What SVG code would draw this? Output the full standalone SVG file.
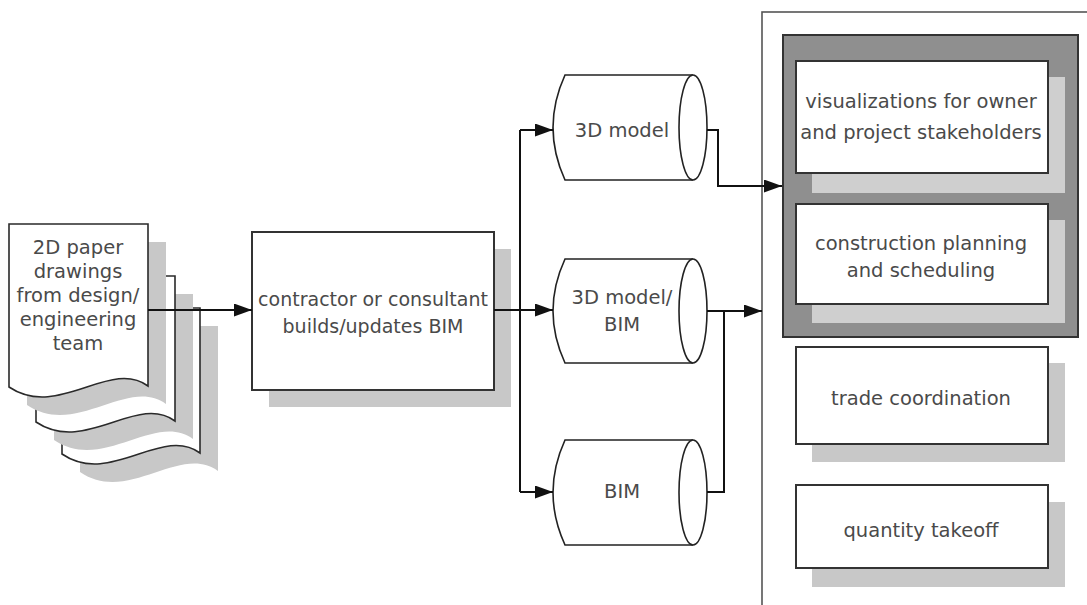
<svg xmlns="http://www.w3.org/2000/svg" width="1087" height="605" viewBox="0 0 1087 605">
<style>
.t{font-family:"DejaVu Sans","Liberation Sans",sans-serif;font-size:19.5px;fill:#4a4a4a;text-anchor:middle;dominant-baseline:central}
.box{fill:#fff;stroke:#333;stroke-width:2}
.sh{fill:#c8c8c8;stroke:none}
.page{fill:#fff;stroke:#2a2a2a;stroke-width:1.6}
.cyl{fill:#fff;stroke:#222;stroke-width:1.6}
.ln{fill:none;stroke:#111;stroke-width:2}
</style>
<defs>
<marker id="arr" markerWidth="18" markerHeight="13" refX="18" refY="6.5" orient="auto" markerUnits="userSpaceOnUse"><path d="M0,0 L18,6.5 L0,13 z" fill="#111"/></marker>
<path id="pg1" d="M9,224 H148 V386 C110,358 58,420 9,387 Z"/>
<path id="pg2" d="M36,276 H175 V421 C137,393 85,455 36,422 Z"/>
<path id="pg3" d="M62,308 H200 V453 C162,425 110,487 62,454 Z"/>
</defs>

<g id="container">
<rect x="762" y="12" width="340" height="610" fill="#fff" stroke="#555" stroke-width="1.6"/>
</g>

<g id="drawings">
<use href="#pg3" class="sh" transform="translate(18,18)"/>
<use href="#pg3" class="page"/>
<use href="#pg2" class="sh" transform="translate(18,18)"/>
<use href="#pg2" class="page"/>
<use href="#pg1" class="sh" transform="translate(18,18)"/>
<use href="#pg1" class="page"/>
<text class="t" x="78" y="247">2D paper</text>
<text class="t" x="78" y="271">drawings</text>
<text class="t" x="78" y="295">from design/</text>
<text class="t" x="78" y="319">engineering</text>
<text class="t" x="78" y="343">team</text>
</g>

<g id="builds">
<rect class="sh" x="269" y="249" width="242" height="158"/>
<rect class="box" x="252" y="232" width="242" height="158"/>
<text class="t" x="373" y="299" style="font-size:19px">contractor or consultant</text>
<text class="t" x="373" y="326" style="font-size:19px">builds/updates BIM</text>
</g>

<g id="cyl-3dmodel">
<path class="cyl" d="M693,75 H565 Q541,127.5 565,180 H693"/>
<ellipse class="cyl" cx="693" cy="127.5" rx="14" ry="52.5"/>
<text class="t" x="622" y="130">3D model</text>
</g>
<g id="cyl-3dmodel-bim">
<path class="cyl" d="M693,259 H565 Q541,311 565,363 H693"/>
<ellipse class="cyl" cx="693" cy="311" rx="14" ry="52"/>
<text class="t" x="622" y="297">3D model/</text>
<text class="t" x="622" y="324">BIM</text>
</g>
<g id="cyl-bim">
<path class="cyl" d="M693,440 H565 Q541,492.5 565,545 H693"/>
<ellipse class="cyl" cx="693" cy="492.5" rx="14" ry="52.5"/>
<text class="t" x="622" y="491">BIM</text>
</g>

<g id="uses-group">
<rect x="783" y="35" width="295" height="302" fill="#8f8f8f" stroke="#333" stroke-width="2"/>
</g>
<g id="visualizations">
<rect x="812" y="77" width="253" height="116" fill="#cfcfcf"/>
<rect class="box" x="796" y="61" width="252" height="112"/>
<text class="t" x="921" y="101">visualizations for owner</text>
<text class="t" x="921" y="132">and project stakeholders</text>
</g>
<g id="planning">
<rect x="812" y="220" width="253" height="103" fill="#cfcfcf"/>
<rect class="box" x="796" y="204" width="252" height="100"/>
<text class="t" x="921" y="243">construction planning</text>
<text class="t" x="921" y="270">and scheduling</text>
</g>
<g id="trade">
<rect class="sh" x="812" y="363" width="253" height="99"/>
<rect class="box" x="796" y="347" width="252" height="97"/>
<text class="t" x="921" y="398">trade coordination</text>
</g>
<g id="quantity">
<rect class="sh" x="812" y="502" width="253" height="85"/>
<rect class="box" x="796" y="485" width="252" height="83"/>
<text class="t" x="921" y="530">quantity takeoff</text>
</g>

<g id="connectors">
<path class="ln" d="M148,310 H252" marker-end="url(#arr)"/>
<path class="ln" d="M494,310 H520"/>
<path class="ln" d="M520,130 V492"/>
<path class="ln" d="M520,130 H553" marker-end="url(#arr)"/>
<path class="ln" d="M520,310 H553" marker-end="url(#arr)"/>
<path class="ln" d="M520,492 H553" marker-end="url(#arr)"/>
<path class="ln" d="M707,130 H718 V186 H782" marker-end="url(#arr)"/>
<path class="ln" d="M707,311 H762" marker-end="url(#arr)"/>
<path class="ln" d="M707,492 H724 V311"/>
</g>
</svg>
